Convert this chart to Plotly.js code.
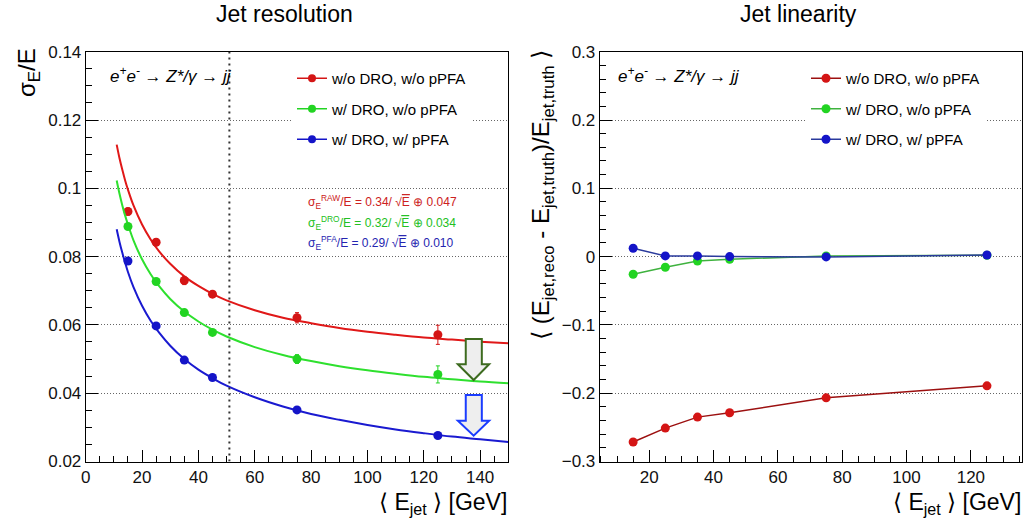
<!DOCTYPE html>
<html>
<head>
<meta charset="utf-8">
<script src="https://cdn.plot.ly/plotly-3.0.1.min.js"></script>
<style>html,body{margin:0;padding:0;background:#fff;}#chart{width:1034px;height:522px;}</style>
</head>
<body>
<div id="chart"></div>
<script>
// ---------- data ----------
const energies = [15, 25, 35, 45, 75, 125];

// resolution points (sigma_E / E)
const resRaw = [0.0932, 0.0842, 0.0730, 0.0690, 0.0621, 0.0571];
const resRawErr = [0.0010, 0.0008, 0.0012, 0.0008, 0.0015, 0.0028];
const resDro = [0.0888, 0.0727, 0.0636, 0.0578, 0.0500, 0.0455];
const resDroErr = [0.0008, 0.0007, 0.0006, 0.0008, 0.0013, 0.0025];
const resPfa = [0.0787, 0.0597, 0.0497, 0.0446, 0.0351, 0.0276];
const resPfaErr = [0.0005, 0.0004, 0.0004, 0.0004, 0.0005, 0.0006];

// fit curves
const fitE   = [11, 12, 13, 14, 15, 17, 20, 23, 26, 30, 35, 40, 45, 50, 60, 70, 80, 90, 100, 110, 120, 130, 140, 150];
const fitRaw = [0.1128, 0.1088, 0.1054, 0.1023, 0.0996, 0.0949, 0.0894, 0.0851, 0.0816, 0.0779, 0.0742, 0.0714, 0.0691, 0.0672, 0.0643, 0.0621, 0.0605, 0.0591, 0.0580, 0.0571, 0.0563, 0.0557, 0.0551, 0.0546];
const fitDro = [0.1023, 0.0984, 0.0950, 0.0920, 0.0894, 0.0847, 0.0792, 0.0749, 0.0714, 0.0676, 0.0639, 0.0610, 0.0586, 0.0566, 0.0535, 0.0512, 0.0494, 0.0479, 0.0467, 0.0457, 0.0448, 0.0441, 0.0434, 0.0429];
const fitPfa = [0.0880, 0.0843, 0.0811, 0.0782, 0.0755, 0.0710, 0.0656, 0.0613, 0.0578, 0.0539, 0.0500, 0.0469, 0.0444, 0.0422, 0.0388, 0.0361, 0.0339, 0.0322, 0.0307, 0.0294, 0.0283, 0.0273, 0.0265, 0.0257];

// linearity points
const linRaw = [-0.2715, -0.2511, -0.2350, -0.2287, -0.2068, -0.1892];
const linDro = [-0.0259, -0.0156, -0.0065, -0.0040, 0.0010, 0.0020];
const linPfa = [0.0122, 0.0010, 0.0010, 0.0000, -0.0005, 0.0024];

const seriesNames = ['w/o DRO, w/o pPFA', 'w/ DRO, w/o pPFA', 'w/ DRO, w/ pPFA'];
const fitLabels = [
  'σ<sub>E</sub><sup>RAW</sup>/E = 0.34/ √<span style="text-decoration:overline">E</span> ⊕ 0.047',
  'σ<sub>E</sub><sup>DRO</sup>/E = 0.32/ √<span style="text-decoration:overline">E</span> ⊕ 0.034',
  'σ<sub>E</sub><sup>PFA</sup>/E = 0.29/ √<span style="text-decoration:overline">E</span> ⊕ 0.010'
];

// ---------- styling ----------
const FONT = 'Liberation Sans, Arial, Helvetica, sans-serif';
const W = 1034, H = 522;
const px = x => x / W;
const py = y => 1 - y / H;

const cMark = ['#d41515', '#22d422', '#1414c8'];
const cFit  = ['#e01818', '#2ee02e', '#1a1ad0'];
const cLinLine = ['#9c1010', '#3fb23f', '#2a3a9c'];

const traces = [];
const resVals = [resRaw, resDro, resPfa];
const resErrs = [resRawErr, resDroErr, resPfaErr];
const fits = [fitRaw, fitDro, fitPfa];
for (let i = 0; i < 3; i++) {
  traces.push({
    x: fitE, y: fits[i], xaxis: 'x', yaxis: 'y', mode: 'lines',
    line: {color: cFit[i], width: 2, shape: 'spline'}, showlegend: false, hoverinfo: 'skip'
  });
  traces.push({
    x: energies, y: resVals[i], xaxis: 'x', yaxis: 'y', mode: 'markers',
    marker: {color: cMark[i], size: 9},
    error_y: {type: 'data', array: resErrs[i], visible: true, color: cMark[i], thickness: 1, width: 2},
    showlegend: false
  });
  // legend entry for left panel
  traces.push({
    x: [null], y: [null], xaxis: 'x', yaxis: 'y', mode: 'lines+markers',
    name: seriesNames[i], legend: 'legend', legendgroup: 'L' + i,
    line: {color: cMark[i], width: 1.5}, marker: {color: cMark[i], size: 8}
  });
}
const linVals = [linRaw, linDro, linPfa];
for (let i = 0; i < 3; i++) {
  traces.push({
    x: energies, y: linVals[i], xaxis: 'x2', yaxis: 'y2', mode: 'lines+markers',
    name: seriesNames[i], legend: 'legend2', legendgroup: 'R' + i,
    line: {color: cLinLine[i], width: 1.5}, marker: {color: cMark[i], size: 9}
  });
}

const axisCommon = {
  showline: true, linecolor: '#000', linewidth: 1, mirror: true,
  ticks: 'inside', ticklen: 12, tickwidth: 1, tickcolor: '#000',
  tickfont: {family: FONT, size: 17, color: '#111'},
  zeroline: false, fixedrange: true
};

const xDomL = [px(85.7), px(508.3)];
const xDomR = [px(599.7), px(1021.7)];
const yDom = [py(461.5), py(51.7)];
const GRID_DASH = '1px,2px';

const layout = {
  width: W, height: H,
  margin: {l: 0, r: 0, t: 0, b: 0},
  paper_bgcolor: '#fff', plot_bgcolor: '#fff',
  font: {family: FONT, color: '#000'},
  xaxis: Object.assign({}, axisCommon, {
    domain: xDomL, range: [0, 150], dtick: 20, tick0: 0, showgrid: false,
    minor: {dtick: 5, ticklen: 6, ticks: 'inside', tickcolor: '#000', showgrid: false}
  }),
  yaxis: Object.assign({}, axisCommon, {
    domain: yDom, range: [0.02, 0.14], dtick: 0.02, tick0: 0.02,
    showgrid: true, gridcolor: '#666', griddash: GRID_DASH, gridwidth: 1,
    minor: {dtick: 0.005, ticklen: 6, ticks: 'inside', tickcolor: '#000', showgrid: false}
  }),
  xaxis2: Object.assign({}, axisCommon, {
    domain: xDomR, range: [4.6, 135.8], dtick: 20, tick0: 0, showgrid: false, anchor: 'y2',
    minor: {dtick: 5, ticklen: 6, ticks: 'inside', tickcolor: '#000', showgrid: false}
  }),
  yaxis2: Object.assign({}, axisCommon, {
    domain: yDom, range: [-0.3, 0.3], dtick: 0.1, tick0: 0, anchor: 'x2',
    showgrid: true, gridcolor: '#666', griddash: GRID_DASH, gridwidth: 1,
    minor: {dtick: 0.02, ticklen: 6, ticks: 'inside', tickcolor: '#000', showgrid: false}
  }),
  legend: {
    x: px(292), y: py(62), xanchor: 'left', yanchor: 'top',
    bgcolor: '#fff', borderwidth: 0, traceorder: 'grouped', tracegroupgap: 8,
    font: {family: FONT, size: 15, color: '#000'}, itemwidth: 30
  },
  legend2: {
    x: px(806), y: py(62), xanchor: 'left', yanchor: 'top',
    bgcolor: '#fff', borderwidth: 0, traceorder: 'grouped', tracegroupgap: 8,
    font: {family: FONT, size: 15, color: '#000'}, itemwidth: 30
  },
  shapes: [
    {type: 'line', xref: 'x', yref: 'y', x0: 51, x1: 51, y0: 0.02, y1: 0.14,
     line: {color: '#333', width: 2, dash: '2px,4px'}},
    {type: 'path', xref: 'x', yref: 'y', layer: 'above',
     path: 'M134.9,0.0559 L140.6,0.0559 L140.6,0.04847 L143.2,0.04847 L137.7,0.04387 L132.1,0.04847 L134.9,0.04847 Z',
     fillcolor: '#eeeeee', line: {color: '#3d6b1f', width: 2}},
    {type: 'path', xref: 'x', yref: 'y', layer: 'above',
     path: 'M134.9,0.03948 L140.6,0.03948 L140.6,0.03196 L143.2,0.03196 L137.7,0.02756 L132.1,0.03196 L134.9,0.03196 Z',
     fillcolor: '#eeeeee', line: {color: '#1a3cff', width: 2}}
  ],
  annotations: [
    {xref: 'paper', yref: 'paper', x: px(284), y: py(14), text: 'Jet resolution', showarrow: false,
     xanchor: 'center', yanchor: 'middle', font: {family: FONT, size: 23, color: '#000'}},
    {xref: 'paper', yref: 'paper', x: px(798), y: py(14), text: 'Jet linearity', showarrow: false,
     xanchor: 'center', yanchor: 'middle', font: {family: FONT, size: 23, color: '#000'}},
    {xref: 'paper', yref: 'paper', x: px(29), y: py(73), text: 'σ<sub>E</sub>/E', textangle: -90, showarrow: false,
     xanchor: 'center', yanchor: 'middle', font: {family: FONT, size: 24, color: '#000'}},
    {xref: 'paper', yref: 'paper', x: px(542), y: py(195),
     text: '⟨ (E<sub>jet,reco</sub> - E<sub>jet,truth</sub>)/E<sub>jet,truth</sub> ⟩', textangle: -90, showarrow: false,
     xanchor: 'center', yanchor: 'middle', font: {family: FONT, size: 24, color: '#000'}},
    {xref: 'paper', yref: 'paper', x: px(509), y: py(503), text: '⟨ E<sub>jet</sub> ⟩ [GeV]', showarrow: false,
     xanchor: 'right', yanchor: 'middle', font: {family: FONT, size: 23, color: '#000'}},
    {xref: 'paper', yref: 'paper', x: px(1023), y: py(503), text: '⟨ E<sub>jet</sub> ⟩ [GeV]', showarrow: false,
     xanchor: 'right', yanchor: 'middle', font: {family: FONT, size: 23, color: '#000'}},
    {xref: 'paper', yref: 'paper', x: px(108), y: py(75), text: '<i>e<sup>+</sup>e<sup>-</sup> → Z*/γ → jj</i>', showarrow: false,
     xanchor: 'left', yanchor: 'middle', font: {family: FONT, size: 17, color: '#000'}},
    {xref: 'paper', yref: 'paper', x: px(616), y: py(75), text: '<i>e<sup>+</sup>e<sup>-</sup> → Z*/γ → jj</i>', showarrow: false,
     xanchor: 'left', yanchor: 'middle', font: {family: FONT, size: 17, color: '#000'}},
    {xref: 'paper', yref: 'paper', x: px(306), y: py(202), text: fitLabels[0], showarrow: false,
     xanchor: 'left', yanchor: 'middle', font: {family: FONT, size: 12, color: '#cc2020'}},
    {xref: 'paper', yref: 'paper', x: px(306), y: py(223), text: fitLabels[1], showarrow: false,
     xanchor: 'left', yanchor: 'middle', font: {family: FONT, size: 12, color: '#22c022'}},
    {xref: 'paper', yref: 'paper', x: px(306), y: py(243), text: fitLabels[2], showarrow: false,
     xanchor: 'left', yanchor: 'middle', font: {family: FONT, size: 12, color: '#2424b0'}}
  ]
};

Plotly.newPlot('chart', traces, layout, {staticPlot: true, displayModeBar: false});
</script>
</body>
</html>
